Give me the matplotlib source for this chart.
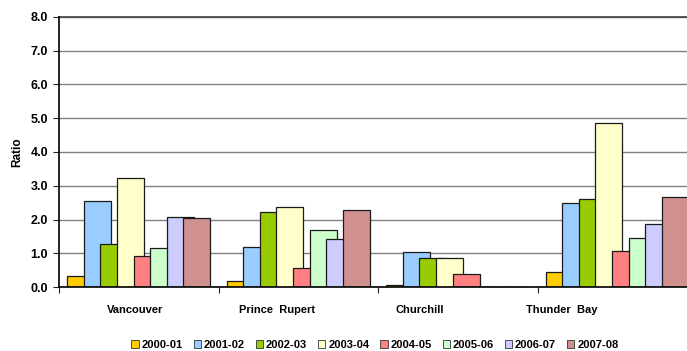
import matplotlib
matplotlib.use("Agg")
import matplotlib.pyplot as plt
import numpy as np
from matplotlib.patches import Patch

plt.rcParams['font.family'] = ['Liberation Sans', 'DejaVu Sans']

# Ratios by port and crop year
ports = ["Vancouver", "Prince  Rupert", "Churchill", "Thunder  Bay"]
years = ["2000-01", "2001-02", "2002-03", "2003-04",
         "2004-05", "2005-06", "2006-07", "2007-08"]
ratio_2000_01 = [0.34, 0.18, 0.06, 0.44]
ratio_2001_02 = [2.56, 1.20, 1.03, 2.48]
ratio_2002_03 = [1.29, 2.22, 0.86, 2.62]
ratio_2003_04 = [3.24, 2.38, 0.86, 4.87]
ratio_2004_05 = [0.93, 0.56, 0.38, 1.06]
ratio_2005_06 = [1.15, 1.70, 0.00, 1.45]
ratio_2006_07 = [2.09, 1.44, 0.00, 1.86]
ratio_2007_08 = [2.06, 2.29, 0.00, 2.68]
series = [ratio_2000_01, ratio_2001_02, ratio_2002_03, ratio_2003_04,
          ratio_2004_05, ratio_2005_06, ratio_2006_07, ratio_2007_08]
colors = ["#FFCC00", "#99CCFF", "#99CC00", "#FFFFCC",
          "#FF8080", "#CCFFCC", "#CCCCFF", "#D09090"]
y_ticks = [0, 1, 2, 3, 4, 5, 6, 7, 8]

W, H = 687, 351
fig = plt.figure(figsize=(W / 100, H / 100), dpi=100)
ax = fig.add_axes([59 / W, (H - 287.3) / H, 638 / W, 270.6 / H])

# overlapping bars: each series steps right and is drawn over the previous one
step = 0.104
width = 0.169
n = len(series)
centers = np.arange(len(ports)) + 0.5
for k, (vals, col) in enumerate(zip(series, colors)):
    offs = (k - (n - 1) / 2) * step
    ax.bar(centers + offs, vals, width=width, color=col,
           edgecolor="#1a1a1a", linewidth=0.9, zorder=3 + k)

ax.set_xlim(0, len(ports))
ax.set_ylim(0, 8)
ax.set_yticks(y_ticks)
ax.set_yticklabels([f"{v:.1f}" for v in y_ticks], fontsize=9, fontweight="bold")
ax.yaxis.grid(True, color="#808080", linewidth=1.0, zorder=0)
ax.set_axisbelow(True)

ax.set_xticks(np.arange(len(ports) + 1))
ax.set_xticklabels([])
ax.tick_params(axis="x", direction="out", length=4, width=0.8, color="#222222")
ax.tick_params(axis="y", direction="out", length=4, width=0.8, color="#222222", pad=4)

for s in ["left", "bottom"]:
    ax.spines[s].set_color("black")
    ax.spines[s].set_linewidth(1.2)
    ax.spines[s].set_zorder(20)
ax.spines["right"].set_visible(False)
ax.spines["top"].set_color("#404040")
ax.spines["top"].set_linewidth(1.2)

# category labels
label_pos = 0.476 + 0.893 * np.arange(len(ports))
for x, name in zip(label_pos, ports):
    ax.text(x, -0.67, name, ha="center", va="center", fontsize=8,
            fontweight="bold", transform=ax.transData, clip_on=False)

ax.set_ylabel("Ratio", fontsize=8.5, fontweight="bold", labelpad=5)

handles = [Patch(facecolor=c, edgecolor="#333333", linewidth=0.6) for c in colors]
leg = fig.legend(handles, years, loc="center", bbox_to_anchor=(375 / W, 1 - 345 / H),
                 ncol=8, frameon=False, handlelength=0.65, handleheight=0.65,
                 handletextpad=0.25, columnspacing=1.0,
                 prop={"size": 8, "weight": "bold"})

fig.savefig("out.png", dpi=100)
